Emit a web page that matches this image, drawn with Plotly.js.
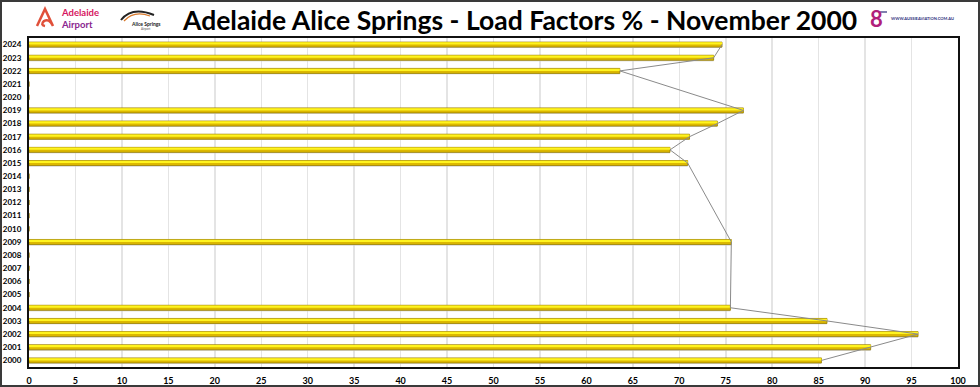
<!DOCTYPE html>
<html>
<head>
<meta charset="utf-8">
<script src="https://cdn.plot.ly/plotly-3.0.1.min.js"></script>
<style>
html,body{margin:0;padding:0;background:#fff;}
#chart{width:980px;height:387px;box-sizing:border-box;border:2px solid #3a3a3a;}
</style>
</head>
<body>
<div id="chart"></div>
<script>
// ---- data ----
const years = ["2000","2001","2002","2003","2004","2005","2006","2007","2008","2009","2010","2011","2012",
               "2013","2014","2015","2016","2017","2018","2019","2020","2021","2022","2023","2024"];
const loadFactors = [85.3, 90.6, 95.7, 85.9, 75.5, null, null, null, null, 75.6, null, null, null,
                     null, null, 70.9, 69.0, 71.1, 74.1, 76.9, null, null, 63.6, 73.7, 74.6];
const xTicks = [0,5,10,15,20,25,30,35,40,45,50,55,60,65,70,75,80,85,90,95,100];
const titleText = "Adelaide Alice Springs - Load Factors % - November 2000";

// ---- layout geometry ----
const W = 976, H = 383;
const M = {l:27, r:20, t:36, b:18};
const PW = W - M.l - M.r, PH = H - M.t - M.b;
const px = x => (x - 2 - M.l) / PW;       // image pixel -> paper x
const py = y => 1 - (y - 2 - M.t) / PH;   // image pixel -> paper y

const barVals = loadFactors.map(v => v === null ? 0 : v);

const traces = [
  { type:'bar', orientation:'h', y:years, x:barVals, width:0.42, offset:-0.26,
    marker:{color:'#c8c8c8', line:{width:0}}, hoverinfo:'skip' },
  { type:'bar', orientation:'h', y:years, x:barVals, width:0.38, offset:-0.19,
    marker:{color:'#dcb800', line:{color:'#9c8000', width:0.8}}, hoverinfo:'skip' },
  { type:'bar', orientation:'h', y:years, x:barVals, width:0.17, offset:0.0,
    marker:{color:'#fff41f', line:{width:0}}, hoverinfo:'skip' },
  { type:'scatter', mode:'lines', y:years, x:loadFactors, connectgaps:true,
    line:{color:'#8a8a8a', width:1}, hoverinfo:'skip' }
];

const layout = {
  width:W, height:H,
  margin:M,
  paper_bgcolor:'#ffffff', plot_bgcolor:'#ffffff',
  showlegend:false,
  barmode:'overlay',
  font:{family:'Lato, "Liberation Sans", sans-serif', color:'#000'},
  xaxis:{range:[0,100], tickvals:xTicks, ticktext:xTicks.map(String),
         showgrid:true, gridcolor:'#e4e4e4', gridwidth:1.5,
         showline:true, linecolor:'#111', linewidth:2, mirror:true,
         zeroline:false, ticks:'', ticklabelstandoff:4,
         tickfont:{size:9, family:'Lato', weight:'bold', color:'#000'}},
  yaxis:{type:'category', categoryorder:'array', categoryarray:years,
         range:[-0.5, 24.5],
         showgrid:false, showline:true, linecolor:'#111', linewidth:2, mirror:true,
         ticks:'', ticklabelstandoff:4,
         tickfont:{size:8, family:'Lato', weight:'bold', color:'#000'}},
  annotations:[
    {xref:'paper', yref:'paper', x:px(519), y:py(20), xanchor:'center', yanchor:'middle',
     text:titleText, showarrow:false,
     font:{family:'Lato', size:26.5, weight:'bold', color:'#000'}},
    {xref:'paper', yref:'paper', x:px(59), y:py(12.5), xanchor:'left', yanchor:'middle',
     text:'Adelaide', showarrow:false, font:{family:'Lato', size:9.5, weight:'bold', color:'#d6165f'}},
    {xref:'paper', yref:'paper', x:px(59), y:py(24.5), xanchor:'left', yanchor:'middle',
     text:'Airport', showarrow:false, font:{family:'Lato', size:9.5, weight:'bold', color:'#8a2590'}},
    {xref:'paper', yref:'paper', x:px(146), y:py(24), xanchor:'center', yanchor:'middle',
     text:'Alice Springs', showarrow:false, font:{family:'Lato', size:5, weight:'bold', color:'#222'}},
    {xref:'paper', yref:'paper', x:px(146), y:py(29), xanchor:'center', yanchor:'middle',
     text:'Airport', showarrow:false, font:{family:'Lato', size:3, color:'#555'}},
    {xref:'paper', yref:'paper', x:px(889), y:py(18), xanchor:'left', yanchor:'middle',
     text:'WWW.AUSSIEAVIATION.COM.AU', showarrow:false, font:{family:'Lato', size:4, weight:'bold', color:'#2a2a7a'}},
    {xref:'paper', yref:'paper', x:px(876), y:py(19), xanchor:'center', yanchor:'middle',
     text:'8', showarrow:false, font:{family:'Lato', size:22, weight:'bold', color:'#b0207a'}}
  ],
  shapes:[
    // Adelaide Airport icon (loop "A")
    {type:'path', xref:'paper', yref:'paper',
     path:`M ${px(37)} ${py(26)} L ${px(45)} ${py(9)} L ${px(53)} ${py(26)} Q ${px(49)} ${py(18)} ${px(44)} ${py(21)} Q ${px(40)} ${py(25)} ${px(45)} ${py(26)}`,
     line:{color:'#e0503a', width:2.5}},
    // Alice Springs swoosh
    {type:'path', xref:'paper', yref:'paper',
     path:`M ${px(121)} ${py(20)} Q ${px(132)} ${py(6)} ${px(154)} ${py(15)}`,
     line:{color:'#222', width:2}},
    {type:'path', xref:'paper', yref:'paper',
     path:`M ${px(124)} ${py(21)} Q ${px(134)} ${py(10)} ${px(150)} ${py(16)}`,
     line:{color:'#d8782a', width:1.2}},
    // small plane mark on right logo
    {type:'path', xref:'paper', yref:'paper',
     path:`M ${px(880)} ${py(12)} L ${px(887)} ${py(12)}`,
     line:{color:'#2a2a7a', width:1.2}}
  ]
};

Plotly.newPlot('chart', traces, layout, {staticPlot:true, displayModeBar:false});
</script>
</body>
</html>
